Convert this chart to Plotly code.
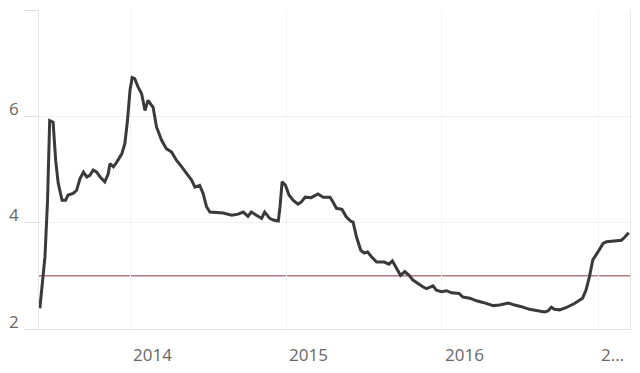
import plotly.graph_objects as go

dates = [
    "2013-06-04", "2013-06-09", "2013-06-16", "2013-06-22", "2013-06-27", "2013-07-05", "2013-07-11", "2013-07-17",
    "2013-07-26", "2013-08-03", "2013-08-09", "2013-08-21", "2013-08-29", "2013-09-06", "2013-09-14", "2013-09-22",
    "2013-09-29", "2013-10-07", "2013-10-15", "2013-10-23", "2013-11-03", "2013-11-11", "2013-11-15", "2013-11-23",
    "2013-12-01", "2013-12-13", "2013-12-20", "2013-12-26", "2014-01-01", "2014-01-06", "2014-01-12", "2014-01-20",
    "2014-01-28", "2014-02-05", "2014-02-12", "2014-02-24", "2014-03-04", "2014-03-16", "2014-03-27", "2014-04-08",
    "2014-04-20", "2014-05-02", "2014-05-13", "2014-05-25", "2014-06-02", "2014-06-13", "2014-06-21", "2014-06-29",
    "2014-07-07", "2014-07-22", "2014-08-07", "2014-08-27", "2014-09-11", "2014-09-23", "2014-10-04", "2014-10-12",
    "2014-10-24", "2014-11-05", "2014-11-12", "2014-11-24", "2014-12-02", "2014-12-14", "2014-12-18", "2014-12-23",
    "2014-12-31", "2015-01-08", "2015-01-18", "2015-01-29", "2015-02-06", "2015-02-15", "2015-03-01", "2015-03-17",
    "2015-03-29", "2015-04-14", "2015-04-21", "2015-04-29", "2015-05-12", "2015-05-22", "2015-06-01", "2015-06-07",
    "2015-06-15", "2015-06-25", "2015-07-03", "2015-07-11", "2015-07-20", "2015-08-01", "2015-08-19", "2015-08-30",
    "2015-09-07", "2015-09-16", "2015-09-26", "2015-10-06", "2015-10-16", "2015-10-25", "2015-11-06", "2015-11-18",
    "2015-11-26", "2015-12-11", "2015-12-19", "2015-12-31", "2016-01-12", "2016-01-23", "2016-02-10", "2016-02-19",
    "2016-03-06", "2016-03-22", "2016-04-06", "2016-04-18", "2016-04-30", "2016-05-15", "2016-06-04", "2016-06-19",
    "2016-07-05", "2016-07-24", "2016-08-12", "2016-08-28", "2016-09-05", "2016-09-13", "2016-09-20", "2016-10-02",
    "2016-10-17", "2016-11-06", "2016-11-25", "2016-12-03", "2016-12-11", "2016-12-19", "2016-12-31", "2017-01-12",
    "2017-01-20", "2017-02-08", "2017-02-24", "2017-03-04", "2017-03-13",
]
values = [
    2.39, 2.79, 3.36, 4.42, 5.92, 5.89, 5.17, 4.74,
    4.42, 4.42, 4.52, 4.55, 4.61, 4.83, 4.95, 4.86,
    4.89, 4.99, 4.95, 4.86, 4.77, 4.92, 5.11, 5.05,
    5.14, 5.30, 5.49, 5.92, 6.49, 6.73, 6.71, 6.55,
    6.43, 6.11, 6.30, 6.17, 5.80, 5.55, 5.39, 5.33,
    5.17, 5.05, 4.92, 4.80, 4.67, 4.70, 4.55, 4.30,
    4.20, 4.19, 4.18, 4.14, 4.16, 4.20, 4.12, 4.20,
    4.14, 4.08, 4.20, 4.08, 4.05, 4.03, 4.30, 4.77,
    4.70, 4.52, 4.42, 4.35, 4.39, 4.48, 4.47, 4.54,
    4.48, 4.48, 4.39, 4.27, 4.25, 4.11, 4.03, 4.01,
    3.73, 3.48, 3.43, 3.45, 3.36, 3.26, 3.26, 3.22,
    3.28, 3.14, 3.01, 3.08, 3.01, 2.92, 2.85, 2.79,
    2.76, 2.81, 2.73, 2.70, 2.72, 2.68, 2.67, 2.60,
    2.58, 2.53, 2.50, 2.47, 2.44, 2.45, 2.49, 2.45,
    2.42, 2.37, 2.34, 2.32, 2.34, 2.41, 2.37, 2.36,
    2.40, 2.48, 2.58, 2.73, 2.98, 3.30, 3.45, 3.61,
    3.64, 3.66, 3.67, 3.73, 3.81,
]
target_value = 3
year_ticks = ["2014-01-01", "2015-01-01", "2016-01-01", "2017-01-01"]
year_labels = ["2014", "2015", "2016", "2…"]
y_ticks = [2, 4, 6, 8]
y_label_vals = [2, 4, 6]
y_labels = ["2", "4", "6"]

FONT = dict(family="Open Sans", size=17, color="#666666")

fig = go.Figure()
fig.add_trace(go.Scatter(
    x=dates, y=values, mode="lines",
    line=dict(color="#3a3a3a", width=3),
    showlegend=False, hoverinfo="skip",
))
fig.add_shape(type="line", xref="paper", x0=0, x1=1, yref="y",
              y0=target_value, y1=target_value,
              line=dict(color="#b07a80", width=1.5), layer="below")

for d, t in zip(year_ticks, year_labels):
    fig.add_annotation(x=d, xref="x", y=0, yref="paper", yshift=-12,
                       text=t, showarrow=False, xanchor="left", yanchor="top",
                       xshift=1, font=FONT)

for v, t in zip(y_label_vals, y_labels):
    fig.add_annotation(x=0, xref="paper", y=v, yref="y", yshift=8, xshift=-18,
                       text=t, showarrow=False, xanchor="right", yanchor="middle",
                       font=FONT)

# page body has an 8px default margin, so the figure is 8px smaller than the window
fig.update_layout(
    width=632, height=365,
    margin=dict(l=31, r=10, t=2, b=44, autoexpand=False),
    paper_bgcolor="white", plot_bgcolor="white",
    font=FONT,
    xaxis=dict(
        type="date", range=["2013-06-02", "2017-03-16"], automargin=False,
        tickvals=year_ticks, showticklabels=False, ticks="",
        showgrid=True, gridcolor="#f3f3f3", gridwidth=1,
        zeroline=False, showline=True, linecolor="#e2e2e2", linewidth=1,
    ),
    yaxis=dict(
        range=[2, 8], tickvals=y_ticks, showticklabels=False, automargin=False,
        ticks="outside", ticklen=14, tickcolor="#dddddd", tickwidth=1,
        showgrid=True, gridcolor="#f0f0f0", gridwidth=1,
        zeroline=False, showline=True, linecolor="#e6e6e6", linewidth=1, mirror=True,
    ),
)
fig.write_html("out.html")
